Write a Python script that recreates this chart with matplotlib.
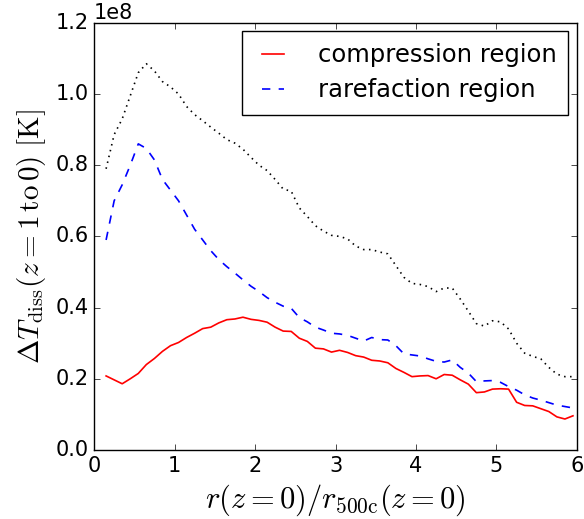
import numpy as np
import matplotlib
matplotlib.use('Agg')
import matplotlib.pyplot as plt

plt.style.use('classic')
plt.rcParams['mathtext.fontset'] = 'cm'
plt.rcParams['figure.facecolor'] = 'white'
plt.rcParams['savefig.facecolor'] = 'white'

# radial bins r / r500c
r = [0.15, 0.25, 0.35, 0.45, 0.55, 0.65, 0.75, 0.85, 0.95, 1.05,
     1.15, 1.25, 1.35, 1.45, 1.55, 1.65, 1.75, 1.85, 1.95, 2.05,
     2.15, 2.25, 2.35, 2.45, 2.55, 2.65, 2.75, 2.85, 2.95, 3.05,
     3.15, 3.25, 3.35, 3.45, 3.55, 3.65, 3.75, 3.85, 3.95, 4.05,
     4.15, 4.25, 4.35, 4.45, 4.55, 4.65, 4.75, 4.85, 4.95, 5.05,
     5.15, 5.25, 5.35, 5.45, 5.55, 5.65, 5.75, 5.85, 5.95]

# Delta T_diss in units of 1e8 K
compression = [0.208, 0.197, 0.186, 0.200, 0.215, 0.240, 0.257, 0.277, 0.293, 0.302,
               0.316, 0.328, 0.341, 0.345, 0.357, 0.366, 0.368, 0.373, 0.367, 0.364,
               0.359, 0.345, 0.334, 0.333, 0.314, 0.305, 0.286, 0.284, 0.275, 0.280,
               0.274, 0.265, 0.261, 0.252, 0.250, 0.245, 0.229, 0.218, 0.206, 0.208,
               0.209, 0.200, 0.212, 0.210, 0.197, 0.185, 0.161, 0.163, 0.171, 0.172,
               0.171, 0.134, 0.125, 0.124, 0.116, 0.108, 0.093, 0.087, 0.096]

rarefaction = [0.590, 0.700, 0.745, 0.800, 0.860, 0.847, 0.815, 0.760, 0.730, 0.700,
               0.660, 0.620, 0.590, 0.560, 0.535, 0.515, 0.497, 0.478, 0.460, 0.445,
               0.428, 0.415, 0.404, 0.398, 0.372, 0.360, 0.345, 0.337, 0.328, 0.326,
               0.322, 0.314, 0.306, 0.316, 0.310, 0.309, 0.293, 0.270, 0.267, 0.264,
               0.256, 0.249, 0.247, 0.253, 0.232, 0.216, 0.192, 0.194, 0.195, 0.190,
               0.178, 0.168, 0.155, 0.146, 0.140, 0.133, 0.126, 0.122, 0.118]

total = [0.790, 0.886, 0.930, 0.995, 1.060, 1.085, 1.065, 1.035, 1.020, 1.000,
         0.965, 0.942, 0.925, 0.907, 0.890, 0.872, 0.862, 0.845, 0.822, 0.800,
         0.785, 0.760, 0.733, 0.727, 0.680, 0.656, 0.630, 0.615, 0.603, 0.600,
         0.593, 0.573, 0.563, 0.563, 0.556, 0.551, 0.518, 0.485, 0.468, 0.465,
         0.459, 0.445, 0.455, 0.455, 0.424, 0.390, 0.355, 0.348, 0.363, 0.360,
         0.340, 0.300, 0.272, 0.263, 0.256, 0.232, 0.213, 0.206, 0.206]

scale = 1e8

fig = plt.figure(figsize=(5.84, 5.19), dpi=100)
ax = fig.add_axes([0.161, 0.133, 0.827, 0.823])

ax.plot(r, np.array(compression) * scale, 'r-', lw=1.2, label='compression region')
ax.plot(r, np.array(rarefaction) * scale, 'b--', lw=1.2, dashes=(6, 6),
        label='rarefaction region')
ax.plot(r, np.array(total) * scale, 'k:', lw=1.2, dashes=(1.1, 3.2))

ax.set_xlim(0, 6)
ax.set_ylim(0, 1.2e8)
ax.set_xticks([0, 1, 2, 3, 4, 5, 6])
ax.set_yticks(np.arange(0, 1.21, 0.2) * scale)
ax.tick_params(labelsize=15)
ax.yaxis.get_offset_text().set_fontsize(15)

ax.set_xlabel(r'$r(z=0)/r_{\rm 500c}(z=0)$', fontsize=22)
ax.set_ylabel(r'$\Delta T_{\rm diss}(z=1\,{\rm to}\,0)\ [{\rm K}]$', fontsize=21)

ax.legend(loc='upper right', fontsize=17.5, handlelength=1.5, handletextpad=1.1,
          borderaxespad=0.35, labelspacing=0.45, borderpad=0.5)

fig.savefig('out.png', dpi=100)
